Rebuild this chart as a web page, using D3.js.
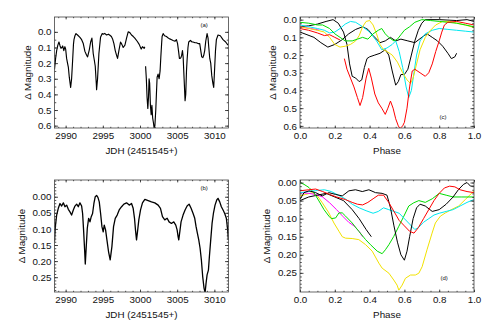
<!DOCTYPE html>
<html>
<head>
<meta charset="utf-8">
<script src="https://cdn.jsdelivr.net/npm/d3@7"></script>
<style>
  body { margin: 0; background: #fff; }
  svg text { font-family: "Liberation Sans", Arial, Helvetica, sans-serif; fill: #111; }
</style>
</head>
<body>
<svg id="fig" width="491" height="327" xmlns="http://www.w3.org/2000/svg"></svg>
<script>
// ---- tick labels ----
const jdTicks = [2990, 2995, 3000, 3005, 3010];
const phaseTicks = [0, 0.2, 0.4, 0.6, 0.8, 1.0];
const magTicksTop = [0, 0.1, 0.2, 0.3, 0.4, 0.5, 0.6];
const magTicksBottom = [0, 0.05, 0.10, 0.15, 0.20, 0.25];

// ---- (a) light curve, [JDH - 2451545, delta mag]; null = gap ----
const lcA = [
  [2988.5, 0.24], [2988.65, 0.17], [2988.79, 0.12], [2988.95, 0.085], [2989.1, 0.065], [2989.25, 0.09],
  [2989.37, 0.105], [2989.5, 0.1], [2989.6, 0.09], [2989.75, 0.12], [2989.9, 0.095], [2990.0, 0.11],
  [2990.13, 0.17], [2990.25, 0.2], [2990.36, 0.225], [2990.49, 0.29], [2990.6, 0.33], [2990.67, 0.355],
  [2990.8, 0.3], [2990.94, 0.18], [2991.05, 0.08], [2991.12, 0.05], [2991.25, 0.025], [2991.39, 0.011],
  [2991.6, 0.02], [2991.92, 0.035], [2992.15, 0.05], [2992.37, 0.075], [2992.59, 0.125], [2992.82, 0.15],
  [2992.95, 0.16], [2993.18, 0.115], [2993.36, 0.065], [2993.53, 0.04], [2993.71, 0.14], [2993.85, 0.18],
  [2993.98, 0.22], [2994.12, 0.33], [2994.16, 0.37], [2994.29, 0.3], [2994.47, 0.14], [2994.69, 0.035],
  [2994.92, 0.011], [2995.05, 0.015], [2995.25, 0.01], [2995.5, 0.02], [2995.75, 0.015], [2995.95, 0.022],
  [2996.15, 0.03], [2996.31, 0.045], [2996.49, 0.075], [2996.67, 0.12], [2996.85, 0.15], [2996.98, 0.17],
  [2997.16, 0.12], [2997.38, 0.065], [2997.56, 0.08], [2997.74, 0.1], [2997.97, 0.085], [2998.19, 0.04],
  [2998.41, 0.0], [2998.63, 0.005], [2998.86, 0.02], [2999.1, 0.03], [2999.3, 0.04], [2999.62, 0.06],
  [2999.89, 0.08], [3000.16, 0.11], [3000.33, 0.095], [3000.56, 0.105], [3000.65, 0.095],
  null,
  [3000.75, 0.22], [3000.85, 0.3], [3000.95, 0.42], [3001.05, 0.49], [3001.14, 0.42], [3001.22, 0.3],
  [3001.3, 0.33], [3001.4, 0.47], [3001.5, 0.53], [3001.6, 0.47], [3001.7, 0.55], [3001.8, 0.58],
  [3001.9, 0.615], [3002.0, 0.6], [3002.12, 0.5], [3002.22, 0.38], [3002.3, 0.29], [3002.43, 0.27],
  [3002.57, 0.3], [3002.7, 0.25], [3002.8, 0.16], [3002.9, 0.08], [3002.97, 0.03], [3003.11, 0.011],
  [3003.3, 0.025], [3003.56, 0.03], [3003.8, 0.04], [3004.0, 0.045], [3004.25, 0.05], [3004.45, 0.055],
  [3004.7, 0.06], [3004.9, 0.05], [3005.05, 0.075], [3005.2, 0.13], [3005.3, 0.17], [3005.4, 0.17],
  [3005.5, 0.165], [3005.6, 0.15], [3005.71, 0.12], [3005.8, 0.16], [3005.93, 0.3], [3006.06, 0.44],
  [3006.15, 0.4], [3006.25, 0.25], [3006.33, 0.18], [3006.45, 0.1], [3006.55, 0.065], [3006.78, 0.055],
  [3007.0, 0.065], [3007.13, 0.065], [3007.4, 0.07], [3007.58, 0.07], [3007.8, 0.075], [3008.03, 0.075],
  [3008.2, 0.13], [3008.3, 0.16], [3008.45, 0.165], [3008.57, 0.15], [3008.7, 0.12], [3008.84, 0.06],
  [3009.02, 0.011], [3009.15, 0.04], [3009.25, 0.1], [3009.38, 0.17], [3009.51, 0.2], [3009.65, 0.28],
  [3009.8, 0.33], [3009.91, 0.355], [3010.04, 0.23], [3010.15, 0.12], [3010.27, 0.05], [3010.49, 0.02],
  [3010.8, 0.025], [3011.16, 0.05], [3011.52, 0.065], [3011.83, 0.085]
];

// ---- (b) light curve ----
const lcB = [
  [2988.5, 0.14], [2988.61, 0.093], [2988.79, 0.057], [2989.01, 0.036], [2989.24, 0.021], [2989.46, 0.029],
  [2989.69, 0.019], [2989.91, 0.031], [2990.13, 0.026], [2990.36, 0.039], [2990.58, 0.047], [2990.8, 0.057],
  [2991.03, 0.041], [2991.25, 0.029], [2991.48, 0.023], [2991.7, 0.031], [2991.92, 0.019], [2992.15, 0.029],
  [2992.28, 0.052], [2992.41, 0.103], [2992.55, 0.165], [2992.64, 0.209], [2992.77, 0.155], [2992.91, 0.098],
  [2993.09, 0.067], [2993.27, 0.078], [2993.44, 0.062], [2993.62, 0.052], [2993.8, 0.021], [2993.98, 0.0],
  [2994.16, -0.004], [2994.34, 0.002], [2994.52, 0.016], [2994.7, 0.052], [2994.88, 0.093], [2995.05, 0.109],
  [2995.19, 0.088], [2995.37, 0.103], [2995.55, 0.134], [2995.77, 0.171], [2995.99, 0.196], [2996.22, 0.155],
  [2996.44, 0.093], [2996.67, 0.067], [2996.93, 0.057], [2997.2, 0.041], [2997.52, 0.031], [2997.83, 0.023],
  [2998.19, 0.019], [2998.55, 0.026], [2998.86, 0.021], [2999.08, 0.036], [2999.26, 0.067], [2999.39, 0.103],
  [2999.53, 0.134], [2999.66, 0.109], [2999.84, 0.072], [3000.07, 0.041], [3000.33, 0.019], [3000.65, 0.008],
  [3001.1, 0.012], [3001.54, 0.016], [3001.99, 0.019], [3002.44, 0.026], [3002.75, 0.036], [3003.02, 0.062],
  [3003.33, 0.072], [3003.65, 0.067], [3003.91, 0.078], [3004.23, 0.083], [3004.54, 0.078], [3004.81, 0.088],
  [3004.99, 0.103], [3005.12, 0.124], [3005.21, 0.134], [3005.35, 0.109], [3005.52, 0.078], [3005.79, 0.057],
  [3006.06, 0.041], [3006.33, 0.029], [3006.6, 0.023], [3006.87, 0.036], [3007.14, 0.052], [3007.36, 0.067],
  [3007.54, 0.093], [3007.72, 0.114], [3007.9, 0.134], [3008.08, 0.16], [3008.25, 0.196], [3008.43, 0.248],
  [3008.61, 0.284], [3008.75, 0.298], [3008.88, 0.269], [3009.02, 0.243], [3009.2, 0.228], [3009.33, 0.186],
  [3009.51, 0.134], [3009.69, 0.083], [3009.87, 0.052], [3010.09, 0.026], [3010.32, 0.01], [3010.49, 0.005],
  [3010.72, 0.016], [3010.94, 0.031], [3011.17, 0.041], [3011.39, 0.052], [3011.61, 0.067], [3011.79, 0.103],
  [3011.88, 0.134]
];

// ---- (c) phased cycles of (a), [phase, delta mag] ----
const cBlackA = [
  [0.0, 0.07], [0.04, 0.085], [0.08, 0.1], [0.12, 0.13], [0.16, 0.155], [0.2, 0.14], [0.24, 0.115],
  [0.28, 0.08], [0.32, 0.055], [0.36, 0.04], [0.39, 0.055], [0.42, 0.09], [0.46, 0.13], [0.49, 0.12],
  [0.52, 0.1], [0.55, 0.12], [0.58, 0.11], [0.62, 0.12], [0.66, 0.13], [0.7, 0.1], [0.73, 0.08],
  [0.76, 0.1], [0.79, 0.12], [0.82, 0.15], [0.85, 0.19], [0.87, 0.22], [0.89, 0.21], [0.9, 0.19]
];
const cBlackB = [
  [0.0, 0.04], [0.05, 0.035], [0.1, 0.025], [0.15, 0.01], [0.19, 0.0], [0.22, 0.02], [0.25, 0.07],
  [0.27, 0.14], [0.285, 0.25], [0.3, 0.32], [0.32, 0.33], [0.34, 0.35], [0.355, 0.34], [0.37, 0.27],
  [0.385, 0.22], [0.4, 0.21], [0.43, 0.2], [0.46, 0.19], [0.49, 0.17], [0.51, 0.2], [0.53, 0.29],
  [0.55, 0.37], [0.565, 0.35], [0.58, 0.31], [0.6, 0.31], [0.62, 0.28], [0.64, 0.2], [0.66, 0.12],
  [0.68, 0.06], [0.7, 0.02], [0.72, 0.0], [0.8, 0.0], [0.9, 0.005], [0.96, 0.0], [1.0, 0.01]
];
const cRed = [
  [0.0, 0.05], [0.05, 0.06], [0.1, 0.075], [0.14, 0.09], [0.17, 0.085], [0.2, 0.1], [0.23, 0.115],
  null,
  [0.255, 0.22], [0.27, 0.28], [0.29, 0.33], [0.31, 0.38], [0.33, 0.44], [0.345, 0.485], [0.36, 0.44],
  [0.38, 0.33], [0.395, 0.275], [0.41, 0.33], [0.43, 0.42], [0.45, 0.47], [0.47, 0.5], [0.49, 0.535],
  [0.505, 0.5], [0.52, 0.46], [0.535, 0.5], [0.55, 0.56], [0.565, 0.6], [0.575, 0.615], [0.59, 0.6],
  [0.6, 0.58], [0.615, 0.5], [0.63, 0.38], [0.645, 0.29], [0.66, 0.28], [0.69, 0.3], [0.72, 0.32],
  [0.74, 0.3], [0.76, 0.25], [0.78, 0.18], [0.8, 0.12], [0.815, 0.07], [0.83, 0.03], [0.85, 0.015],
  [0.9, 0.01], [0.95, 0.02], [1.0, 0.03]
];
const cGreen = [
  [0.0, 0.015], [0.05, 0.02], [0.1, 0.03], [0.13, 0.03], [0.17, 0.05], [0.2, 0.08], [0.23, 0.1],
  [0.26, 0.12], [0.3, 0.12], [0.33, 0.11], [0.36, 0.1], [0.39, 0.11], [0.42, 0.08], [0.45, 0.06],
  [0.47, 0.05], [0.49, 0.08], [0.51, 0.1], [0.54, 0.12], [0.56, 0.11], [0.58, 0.085], [0.6, 0.06],
  [0.63, 0.04], [0.66, 0.015], [0.7, 0.0], [0.75, 0.005], [0.8, 0.01], [0.85, 0.015], [0.9, 0.02],
  [0.95, 0.03], [1.0, 0.04]
];
const cYellow = [
  [0.0, 0.04], [0.05, 0.05], [0.1, 0.06], [0.14, 0.07], [0.17, 0.1], [0.2, 0.14], [0.23, 0.155],
  [0.26, 0.15], [0.29, 0.14], [0.32, 0.12], [0.34, 0.09], [0.36, 0.04], [0.38, 0.01], [0.4, 0.005],
  [0.42, 0.03], [0.44, 0.08], [0.46, 0.14], [0.48, 0.17], [0.5, 0.18], [0.53, 0.2], [0.56, 0.24],
  [0.59, 0.3], [0.615, 0.34], [0.635, 0.36], [0.65, 0.33], [0.67, 0.25], [0.69, 0.17], [0.72, 0.1],
  [0.75, 0.06], [0.78, 0.03], [0.82, 0.01], [0.86, 0.01], [0.9, 0.02], [0.95, 0.03], [1.0, 0.045]
];
const cCyan = [
  [0.0, 0.03], [0.05, 0.04], [0.1, 0.05], [0.14, 0.06], [0.17, 0.075], [0.2, 0.07], [0.23, 0.05],
  [0.26, 0.025], [0.29, 0.01], [0.32, 0.015], [0.36, 0.04], [0.4, 0.07], [0.44, 0.12], [0.47, 0.17],
  [0.5, 0.16], [0.53, 0.14], [0.55, 0.12], [0.57, 0.18], [0.59, 0.27], [0.61, 0.38], [0.625, 0.44],
  [0.64, 0.4], [0.655, 0.3], [0.67, 0.2], [0.69, 0.12], [0.72, 0.08], [0.76, 0.06], [0.8, 0.05],
  [0.85, 0.055], [0.9, 0.06], [0.95, 0.065], [1.0, 0.07]
];
const cMagenta = [[0.0, 0.04], [0.03, 0.045], [0.06, 0.05], [0.09, 0.055], [0.11, 0.06]];

// ---- (d) phased cycles of (b) ----
const dYellow = [
  [0.0, 0.037], [0.033, 0.033], [0.071, 0.028], [0.1, 0.037], [0.128, 0.056], [0.166, 0.084],
  [0.195, 0.112], [0.224, 0.135], [0.243, 0.15], [0.262, 0.154], [0.3, 0.155], [0.338, 0.158],
  [0.377, 0.172], [0.415, 0.19], [0.453, 0.223], [0.472, 0.237], [0.511, 0.251], [0.539, 0.27],
  [0.558, 0.284], [0.568, 0.298], [0.587, 0.284], [0.606, 0.265], [0.635, 0.256], [0.663, 0.256],
  [0.683, 0.251], [0.702, 0.233], [0.73, 0.186], [0.759, 0.14], [0.778, 0.112], [0.807, 0.093],
  [0.836, 0.084], [0.874, 0.074], [0.912, 0.065], [0.95, 0.047], [1.0, 0.023]
];
const dGreen = [
  [0.0, 0.0], [0.023, 0.005], [0.052, 0.014], [0.08, 0.028], [0.109, 0.051], [0.138, 0.075],
  [0.166, 0.093], [0.18, 0.1], [0.205, 0.098], [0.224, 0.084], [0.243, 0.084], [0.262, 0.093],
  [0.3, 0.112], [0.338, 0.135], [0.377, 0.158], [0.405, 0.172], [0.444, 0.19], [0.472, 0.197],
  [0.491, 0.186], [0.511, 0.172], [0.539, 0.149], [0.568, 0.121], [0.597, 0.093], [0.625, 0.065],
  [0.654, 0.056], [0.683, 0.05], [0.72, 0.055], [0.76, 0.045], [0.8, 0.03], [0.84, 0.035],
  [0.88, 0.04], [0.93, 0.04], [1.0, 0.04]
];
const dBlackA = [
  [0.0, 0.047], [0.023, 0.028], [0.052, 0.023], [0.09, 0.028], [0.128, 0.037], [0.166, 0.028],
  [0.205, 0.033], [0.243, 0.037], [0.281, 0.023], [0.319, 0.02], [0.358, 0.025], [0.396, 0.02],
  [0.434, 0.028], [0.472, 0.03], [0.5, 0.035], [0.52, 0.07], [0.54, 0.12], [0.56, 0.165], [0.58, 0.2],
  [0.6, 0.215], [0.615, 0.19], [0.63, 0.15], [0.65, 0.1], [0.67, 0.07], [0.69, 0.06], [0.72, 0.065],
  [0.76, 0.08], [0.8, 0.075], [0.84, 0.06], [0.88, 0.04], [0.91, 0.02], [0.94, 0.005], [0.96, 0.0],
  [0.98, 0.01], [1.0, 0.01]
];
const dBlackB = [
  [0.0, 0.05], [0.05, 0.04], [0.1, 0.035], [0.15, 0.03], [0.2, 0.04], [0.25, 0.05], [0.3, 0.075],
  [0.34, 0.1], [0.38, 0.13], [0.41, 0.15]
];
const dMagenta = [
  [0.0, 0.028], [0.05, 0.03], [0.09, 0.033], [0.13, 0.04], [0.17, 0.056], [0.21, 0.075],
  [0.245, 0.093], [0.28, 0.11], [0.31, 0.12], [0.34, 0.135], [0.36, 0.15]
];
const dRed = [
  [0.0, 0.023], [0.05, 0.02], [0.09, 0.018], [0.13, 0.025], [0.17, 0.033], [0.21, 0.04], [0.26, 0.047],
  [0.3, 0.055], [0.33, 0.06], [0.36, 0.062], [0.39, 0.055], [0.42, 0.045], [0.45, 0.035], [0.48, 0.035],
  [0.51, 0.055], [0.54, 0.08], [0.57, 0.105], [0.6, 0.12], [0.63, 0.135], [0.655, 0.14], [0.68, 0.125],
  [0.71, 0.1], [0.74, 0.075], [0.77, 0.05], [0.8, 0.03], [0.83, 0.015], [0.86, 0.01], [0.89, 0.012],
  [0.92, 0.02], [0.96, 0.025], [1.0, 0.028]
];
const dCyan = [
  [0.0, 0.028], [0.05, 0.025], [0.1, 0.022], [0.14, 0.02], [0.18, 0.025], [0.22, 0.035], [0.26, 0.045],
  [0.3, 0.06], [0.34, 0.07], [0.38, 0.078], [0.42, 0.085], [0.45, 0.08], [0.48, 0.07], [0.51, 0.075],
  [0.54, 0.08], [0.57, 0.085], [0.6, 0.1], [0.63, 0.115], [0.66, 0.13], [0.68, 0.125], [0.71, 0.11],
  [0.74, 0.1], [0.77, 0.09], [0.8, 0.085], [0.84, 0.08], [0.88, 0.075], [0.92, 0.065], [0.96, 0.055],
  [1.0, 0.047]
];

const svg = d3.select('#fig');
let clipId = 0;

function drawPanel(p) {
  const x = d3.scaleLinear().domain(p.xDomain).range([p.box.l, p.box.r]);
  const y = d3.scaleLinear().domain(p.yDomain).range([p.box.t, p.box.b]);
  const g = svg.append('g');
  const id = 'clip' + (clipId++);

  g.append('clipPath').attr('id', id).append('rect')
      .attr('x', p.box.l).attr('y', p.box.t)
      .attr('width', p.box.r - p.box.l).attr('height', p.box.b - p.box.t);

  const line = d3.line()
      .defined(d => d != null)
      .x(d => x(d[0]))
      .y(d => y(d[1]));

  const plot = g.append('g').attr('clip-path', 'url(#' + id + ')');
  p.series.forEach(s => {
    plot.append('path')
        .attr('d', line(s.data))
        .attr('fill', 'none')
        .attr('stroke', s.color)
        .attr('stroke-width', p.lineWidth)
        .attr('stroke-linejoin', 'round');
  });

  // inward ticks on all four sides, labels only left and bottom
  const xLen = 2.4, yLen = 3.5;
  const axes = [
    [d3.axisBottom(x).tickValues(p.xTicks).tickFormat(d3.format(p.xFmt)).tickSize(-xLen).tickPadding(4), 'translate(0,' + p.box.b + ')'],
    [d3.axisBottom(x).tickValues(p.xMinor).tickFormat('').tickSize(-xLen / 2), 'translate(0,' + p.box.b + ')'],
    [d3.axisTop(x).tickValues(p.xTicks).tickFormat('').tickSize(-xLen), 'translate(0,' + p.box.t + ')'],
    [d3.axisTop(x).tickValues(p.xMinor).tickFormat('').tickSize(-xLen / 2), 'translate(0,' + p.box.t + ')'],
    [d3.axisLeft(y).tickValues(p.yTicks).tickFormat(d3.format(p.yFmt)).tickSize(-yLen).tickPadding(3), 'translate(' + p.box.l + ',0)'],
    [d3.axisLeft(y).tickValues(p.yMinor).tickFormat('').tickSize(-yLen / 2), 'translate(' + p.box.l + ',0)'],
    [d3.axisRight(y).tickValues(p.yTicks).tickFormat('').tickSize(-yLen), 'translate(' + p.box.r + ',0)'],
    [d3.axisRight(y).tickValues(p.yMinor).tickFormat('').tickSize(-yLen / 2), 'translate(' + p.box.r + ',0)']
  ];
  axes.forEach(([ax, tr]) => {
    const a = g.append('g').attr('transform', tr).call(ax);
    a.select('.domain').remove();
    a.selectAll('line').attr('stroke', '#222').attr('stroke-width', 0.8);
    a.selectAll('text').attr('font-size', '9.8px').attr('fill', '#111')
        .attr('font-family', '"Liberation Sans", Arial, sans-serif');
  });

  g.append('rect')
      .attr('x', p.box.l).attr('y', p.box.t)
      .attr('width', p.box.r - p.box.l).attr('height', p.box.b - p.box.t)
      .attr('fill', 'none').attr('stroke', '#444').attr('stroke-width', 0.8);

  g.append('text')
      .attr('x', (p.box.l + p.box.r) / 2).attr('y', p.box.b + 25.5)
      .attr('text-anchor', 'middle').attr('font-size', '9.8px')
      .text(p.xTitle);

  g.append('text')
      .attr('transform', 'translate(' + p.yTitleX + ',' + (p.box.t + p.box.b) / 2 + ') rotate(-90)')
      .attr('text-anchor', 'middle').attr('dominant-baseline', 'central').attr('font-size', '9.8px')
      .text('\u0394 Magnitude');

  g.append('text')
      .attr('x', p.box.l + p.label[1] * (p.box.r - p.box.l))
      .attr('y', p.box.t + p.label[2] * (p.box.b - p.box.t))
      .attr('text-anchor', 'middle').attr('dominant-baseline', 'central').attr('font-size', '6px')
      .text(p.label[0]);
}

const left = { l: 54.5, r: 228.5 }, right = { l: 300, r: 474 };
const topRow = { t: 17, b: 128 }, botRow = { t: 180, b: 292 };
const jdMinor = d3.range(2989, 3012, 1);
const phaseMinor = d3.range(0, 1.0001, 0.05);

drawPanel({
  box: { ...left, ...topRow }, xDomain: [2988.5, 3011.9], yDomain: [-0.095, 0.615],
  xTicks: jdTicks, xMinor: jdMinor, xFmt: 'd', yTicks: magTicksTop, yMinor: d3.range(0, 0.61, 0.05), yFmt: '.1f',
  xTitle: 'JDH (2451545+)', yTitleX: 27, label: ['(a)', 0.86, 0.075], lineWidth: 1.15,
  series: [{ data: lcA, color: '#000' }]
});
drawPanel({
  box: { ...left, ...botRow }, xDomain: [2988.5, 3011.9], yDomain: [-0.052, 0.296],
  xTicks: jdTicks, xMinor: jdMinor, xFmt: 'd', yTicks: magTicksBottom, yMinor: d3.range(-0.05, 0.3, 0.01), yFmt: '.2f',
  xTitle: 'JDH (2451545+)', yTitleX: 21, label: ['(b)', 0.86, 0.075], lineWidth: 1.3,
  series: [{ data: lcB, color: '#000' }]
});
drawPanel({
  box: { ...right, ...topRow }, xDomain: [0, 1], yDomain: [-0.015, 0.612],
  xTicks: phaseTicks, xMinor: phaseMinor, xFmt: '.1f', yTicks: magTicksTop, yMinor: d3.range(0, 0.61, 0.02), yFmt: '.1f',
  xTitle: 'Phase', yTitleX: 272, label: ['(c)', 0.822, 0.9], lineWidth: 1.0,
  series: [
    { data: cBlackA, color: '#000' }, { data: cBlackB, color: '#000' },
    { data: cMagenta, color: '#ff00ff' }, { data: cCyan, color: '#00e8f0' },
    { data: cYellow, color: '#f2e200' }, { data: cGreen, color: '#00dd00' },
    { data: cRed, color: '#ff0000' }
  ]
});
drawPanel({
  box: { ...right, ...botRow }, xDomain: [0, 1], yDomain: [-0.007, 0.303],
  xTicks: phaseTicks, xMinor: phaseMinor, xFmt: '.1f', yTicks: magTicksBottom, yMinor: d3.range(0, 0.3, 0.01), yFmt: '.2f',
  xTitle: 'Phase', yTitleX: 266, label: ['(d)', 0.828, 0.875], lineWidth: 1.0,
  series: [
    { data: dYellow, color: '#f2e200' }, { data: dMagenta, color: '#ff00ff' },
    { data: dBlackB, color: '#000' }, { data: dGreen, color: '#00dd00' },
    { data: dCyan, color: '#00e8f0' }, { data: dBlackA, color: '#000' },
    { data: dRed, color: '#ff0000' }
  ]
});
</script>
</body>
</html>
